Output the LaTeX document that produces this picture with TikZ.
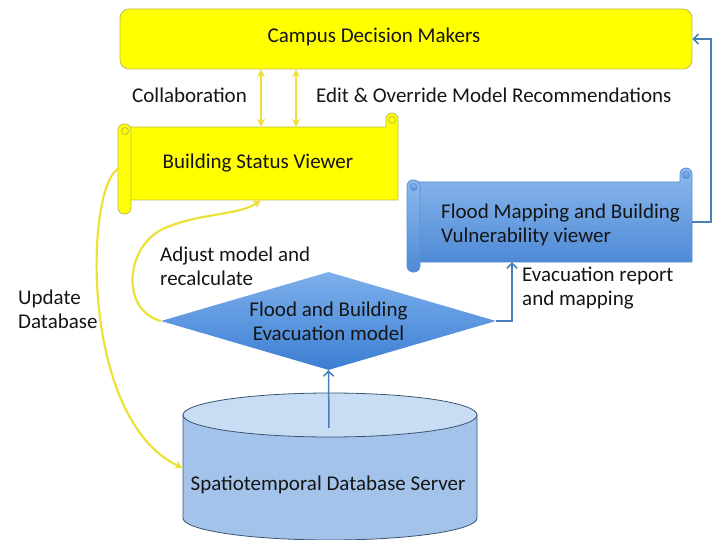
\documentclass[tikz,border=0pt]{standalone}
\usepackage{fontspec}
\setmainfont{Carlito}
\usetikzlibrary{shapes.geometric,arrows.meta}
\definecolor{ybody}{HTML}{FFFF00}
\definecolor{yedge}{HTML}{BDBD55}
\definecolor{yline}{HTML}{EDE038}
\definecolor{bline}{HTML}{4A7EBB}
\definecolor{btop}{HTML}{8CB9EE}
\definecolor{bbot}{HTML}{4F8AD6}
\definecolor{bedge}{HTML}{5A8ED0}
\definecolor{dtop}{HTML}{7DB0EC}
\definecolor{dbot}{HTML}{3C7ED3}
\definecolor{cylbody}{HTML}{A3C3EA}
\definecolor{cyltop}{HTML}{C8DCF3}
\definecolor{cyledge}{HTML}{3A5573}
\definecolor{txt}{HTML}{151515}
\begin{document}
\begin{tikzpicture}[x=1pt,y=-1pt,
  every node/.style={text=txt, font=\fontsize{21}{24}\selectfont},
  ybox/.style={fill=ybody, draw=yedge, line width=0.8pt},
  bscroll/.style={top color=btop, bottom color=bbot, draw=bedge, line width=0.8pt},
  ghost/.style={inner sep=0pt, draw=none},
  yarrow/.style={draw=yline, line width=2.2pt, -{Stealth[length=8pt,width=8pt]}},
  ydouble/.style={draw=yline, line width=2.2pt, {Stealth[length=8pt,width=8pt]}-{Stealth[length=8pt,width=8pt]}},
  barrow/.style={draw=bline, line width=1.5pt, -{Straight Barb[length=5pt,width=10pt]}},
  lbl/.style={inner sep=0pt, align=left}
]
\useasboundingbox (0,0) rectangle (712,540);

% Campus Decision Makers
\node[ybox, rounded corners=9pt, minimum width=572pt, minimum height=60pt] (cdm) at (406,39) {};
\node (cdmt) at (374,37) {Campus Decision Makers};

% Building Status Viewer (scroll)
\path[ybox] (128,127) -- (386,127) -- (386,119) arc[start angle=180,end angle=0,radius=6pt] -- (398,200) -- (128,200) -- cycle;
\path[ybox] (392,120) circle[radius=3.5pt];
\path[ybox, rounded corners=6pt] (118,124) rectangle (131,214);
\path[ybox] (125,131) circle[radius=3.5pt];
\node[ghost, minimum width=270pt, minimum height=73pt] (bsvbox) at (263,163.5) {};
\node[ghost, minimum width=13pt, minimum height=90pt] (bsvroll) at (124.5,169) {};
\node (bsv) at (258,163) {Building Status Viewer};

% Flood Mapping viewer (scroll)
\path[bscroll] (418,182) -- (680,182) -- (680,174) arc[start angle=180,end angle=0,radius=6pt] -- (692,262) -- (418,262) -- cycle;
\path[bscroll] (686,175) circle[radius=3.5pt];
\path[bscroll, rounded corners=6pt] (407,180) rectangle (420,272);
\path[bscroll] (413.5,187) circle[radius=3.5pt];
\node[ghost, minimum width=274pt, minimum height=80pt] (fmvbox) at (555,222) {};
\node[lbl, anchor=west] (fmv) at (441,225) {Flood Mapping and Building\\Vulnerability viewer};

% Model diamond
\node[diamond, aspect=3.4, minimum width=335pt, minimum height=98pt, inner sep=0pt,
      top color=dtop, bottom color=dbot, draw=none, align=center] (model) at (328.5,321)
      {Flood and Building\\Evacuation model};

% Database cylinder
\path[fill=cylbody, draw=cyledge, line width=0.8pt] (183,415) -- (183,518)
  arc[start angle=180,end angle=360,x radius=147pt,y radius=22pt] -- (477,415) -- cycle;
\path[fill=cyltop, draw=cyledge, line width=0.8pt] (330,415) ellipse[x radius=147pt, y radius=22pt];
\node[ghost, minimum width=294pt, minimum height=100pt] (dbbody) at (330,468) {};
\node (db) at (328,485) {Spatiotemporal Database Server};

% helper coordinates
\coordinate (a1) at (261,0);
\coordinate (a2) at (296,0);
\coordinate (e1) at (512,0);
\coordinate (rr) at (711,0);
\coordinate (dbtop) at (329,428);

% connectors
\draw[ydouble] (cdm.south -| a1) -- (bsvbox.north -| a1);
\draw[ydouble] (cdm.south -| a2) -- (bsvbox.north -| a2);
\draw[yarrow] (model.west) .. controls (120,310) and (125,245) .. (165,228)
  .. controls (200,213) and (240,215) .. (bsvbox.south -| a1);
\draw[yarrow] (bsvroll.west) .. controls (85,190) and (80,420) .. (dbbody.west);
\draw[barrow] (dbtop) -- (model.south);
\draw[barrow] (model.east) -| (fmvbox.south -| e1);
\draw[barrow] (fmvbox.east) -| (rr |- cdm.east) -- (cdm.east);

% labels
\node[lbl, anchor=base west] (collab) at (132,103) {Collaboration};
\node[lbl, anchor=base west] (edit) at (316,103) {Edit \& Override Model Recommendations};
\node[lbl, anchor=west] (adj) at (160,266) {Adjust model and\\recalculate};
\node[lbl, anchor=west] (evr) at (522,288) {Evacuation report\\and mapping};
\node[lbl, anchor=west] (upd) at (18,309) {Update\\Database};
\end{tikzpicture}
\end{document}
